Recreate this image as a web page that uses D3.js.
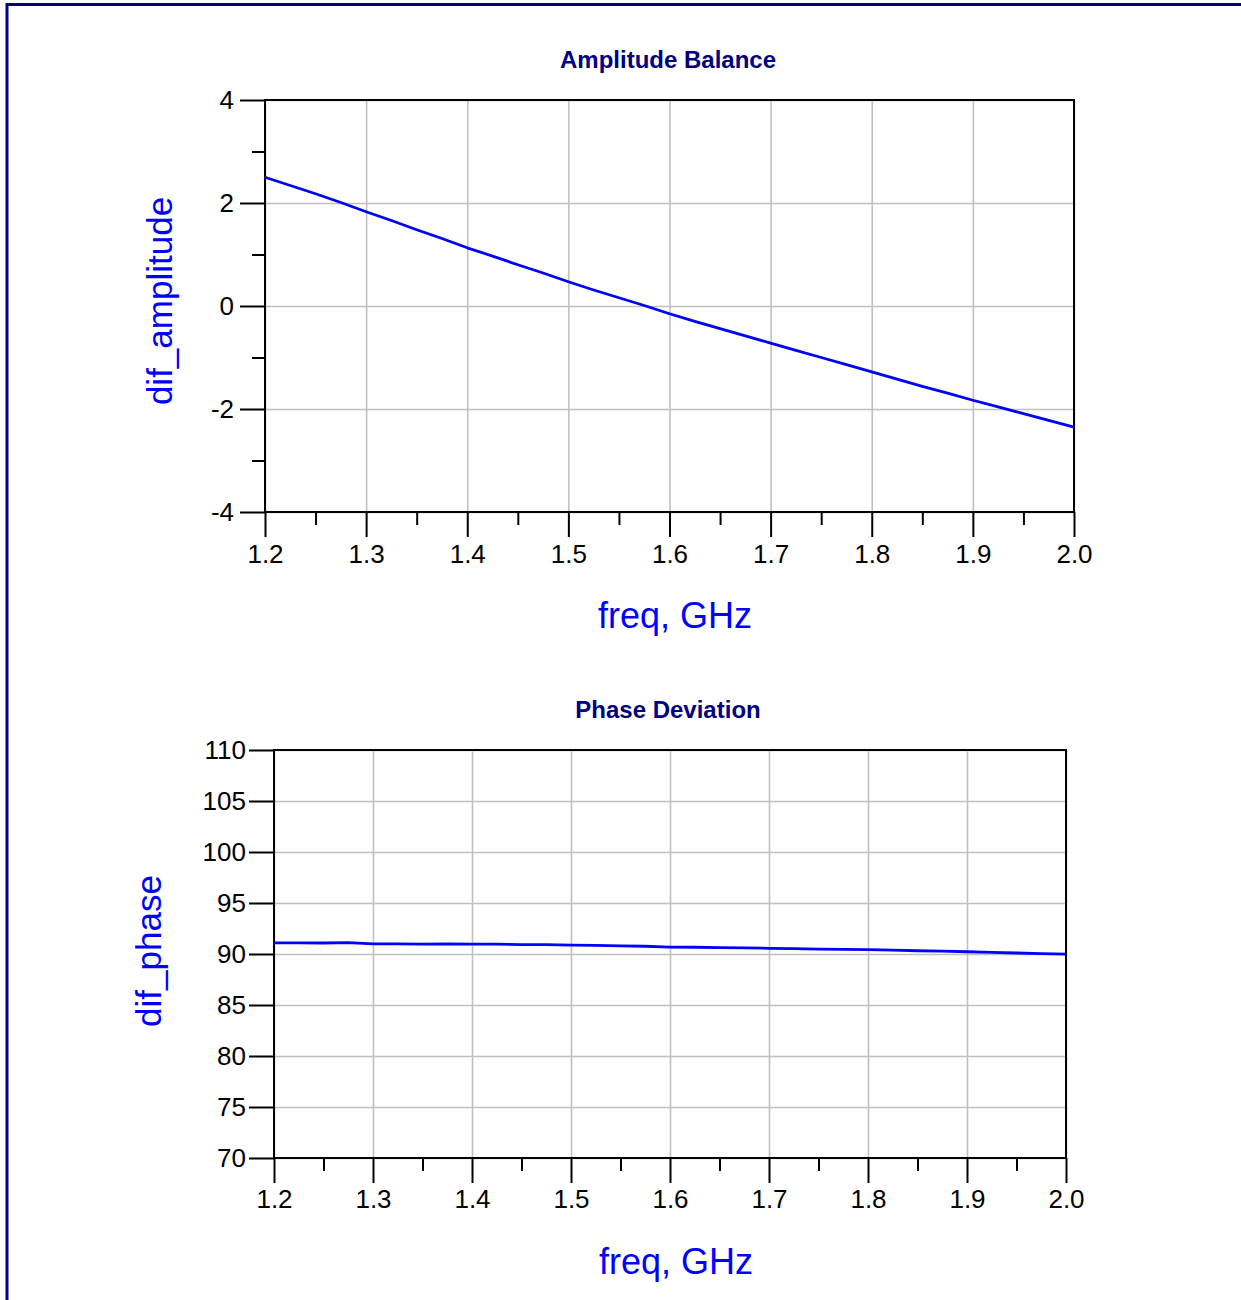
<!DOCTYPE html>
<html>
<head>
<meta charset="utf-8">
<script src="https://cdn.jsdelivr.net/npm/d3@7"></script>
<style>
  body { margin: 0; background: #fff; }
  svg { display: block; font-family: Arial, "Liberation Sans", sans-serif; }
</style>
</head>
<body>
<script>
const width = 1241;
const height = 1300;

// frequency samples, GHz
const freq = [1.2, 1.225, 1.25, 1.275, 1.3, 1.325, 1.35, 1.375, 1.4, 1.425, 1.45, 1.475,
  1.5, 1.525, 1.55, 1.575, 1.6, 1.625, 1.65, 1.675, 1.7, 1.725, 1.75, 1.775,
  1.8, 1.825, 1.85, 1.875, 1.9, 1.925, 1.95, 1.975, 2.0];

// amplitude balance, dB
const difAmplitude = [2.50, 2.34, 2.18, 2.01, 1.83, 1.66, 1.48, 1.31, 1.13, 0.97, 0.80, 0.64,
  0.47, 0.31, 0.16, 0.01, -0.15, -0.30, -0.44, -0.58, -0.72, -0.86, -1.00, -1.14,
  -1.28, -1.42, -1.56, -1.69, -1.83, -1.96, -2.09, -2.22, -2.35];

// phase deviation, deg
const difPhase = [91.10, 91.10, 91.08, 91.12, 91.00, 91.00, 90.97, 90.98, 90.97, 90.96, 90.92, 90.92,
  90.87, 90.85, 90.80, 90.76, 90.68, 90.66, 90.62, 90.60, 90.56, 90.52, 90.48, 90.46,
  90.42, 90.38, 90.32, 90.28, 90.22, 90.16, 90.10, 90.04, 89.98];

const xTicks = [1.2, 1.3, 1.4, 1.5, 1.6, 1.7, 1.8, 1.9, 2.0];
const xMinor = [1.25, 1.35, 1.45, 1.55, 1.65, 1.75, 1.85, 1.95];
const ampTicks = [-4, -2, 0, 2, 4];
const ampMinor = [-3, -1, 1, 3];
const phaseTicks = [70, 75, 80, 85, 90, 95, 100, 105, 110];

const font = 'Arial, "Liberation Sans", sans-serif';

const svg = d3.select('body').append('svg')
  .attr('width', width)
  .attr('height', height);

// page frame
svg.append('rect')
  .attr('x', 7).attr('y', 4.5)
  .attr('width', width + 10).attr('height', height + 10)
  .attr('fill', 'none')
  .attr('stroke', '#000080')
  .attr('stroke-width', 3);

function panel(p) {
  const x = d3.scaleLinear().domain([1.2, 2.0]).range([p.left, p.right]);
  const y = d3.scaleLinear().domain(p.yDomain).range([p.bottom, p.top]);
  const g = svg.append('g');

  // grid
  g.append('g')
    .attr('transform', `translate(0,${p.bottom})`)
    .call(d3.axisBottom(x).tickValues(xTicks).tickSize(-(p.bottom - p.top)).tickFormat(''))
    .call(s => s.select('.domain').remove())
    .call(s => s.selectAll('line').attr('stroke', '#c0c0c0').attr('stroke-width', 1.6));
  g.append('g')
    .attr('transform', `translate(${p.left},0)`)
    .call(d3.axisLeft(y).tickValues(p.yTicks).tickSize(-(p.right - p.left)).tickFormat(''))
    .call(s => s.select('.domain').remove())
    .call(s => s.selectAll('line').attr('stroke', '#c0c0c0').attr('stroke-width', 1.6));

  // frame
  g.append('rect')
    .attr('x', p.left).attr('y', p.top)
    .attr('width', p.right - p.left).attr('height', p.bottom - p.top)
    .attr('fill', 'none').attr('stroke', '#000').attr('stroke-width', 2);

  // x axis
  g.append('g')
    .attr('transform', `translate(0,${p.bottom})`)
    .call(d3.axisBottom(x).tickValues(xTicks).tickSize(25).tickPadding(p.xPad)
      .tickFormat(d3.format('.1f')).tickSizeOuter(0))
    .attr('font-size', 26).attr('font-family', font)
    .call(s => s.select('.domain').remove())
    .call(s => s.selectAll('line').attr('stroke', '#000').attr('stroke-width', 2))
    .call(s => s.selectAll('text').attr('fill', '#000'));
  g.append('g')
    .attr('transform', `translate(0,${p.bottom})`)
    .call(d3.axisBottom(x).tickValues(xMinor).tickSize(13).tickFormat(''))
    .call(s => s.select('.domain').remove())
    .call(s => s.selectAll('line').attr('stroke', '#000').attr('stroke-width', 2));

  // y axis
  g.append('g')
    .attr('transform', `translate(${p.left},0)`)
    .call(d3.axisLeft(y).tickValues(p.yTicks).tickSize(25).tickPadding(p.yPad)
      .tickFormat(d => String(d)).tickSizeOuter(0))
    .attr('font-size', 26).attr('font-family', font)
    .call(s => s.select('.domain').remove())
    .call(s => s.selectAll('line').attr('stroke', '#000').attr('stroke-width', 2))
    .call(s => s.selectAll('text').attr('fill', '#000'));
  if (p.yMinor) {
    g.append('g')
      .attr('transform', `translate(${p.left},0)`)
      .call(d3.axisLeft(y).tickValues(p.yMinor).tickSize(13).tickFormat(''))
      .call(s => s.select('.domain').remove())
      .call(s => s.selectAll('line').attr('stroke', '#000').attr('stroke-width', 2));
  }

  // trace
  g.append('path')
    .datum(d3.zip(freq, p.values))
    .attr('fill', 'none')
    .attr('stroke', '#0000ff')
    .attr('stroke-width', 2.8)
    .attr('stroke-linejoin', 'round')
    .attr('d', d3.line().x(d => x(d[0])).y(d => y(d[1])));

  // titles
  g.append('text')
    .attr('x', 668).attr('y', p.top - 32)
    .attr('text-anchor', 'middle')
    .attr('font-size', 24).attr('font-weight', 'bold').attr('fill', '#000080')
    .text(p.title);
  g.append('text')
    .attr('x', p.xTitleX).attr('y', p.bottom + 116)
    .attr('text-anchor', 'middle')
    .attr('font-size', 36).attr('fill', '#0000ff')
    .text('freq, GHz');
  g.append('text')
    .attr('transform', `translate(${p.yTitleX},${p.yTitleY}) rotate(-90)`)
    .attr('text-anchor', 'middle')
    .attr('font-size', 35).attr('fill', '#0000ff')
    .text(p.yLabel);
}

panel({
  left: 265, right: 1074, top: 100, bottom: 512,
  yDomain: [-4, 4], yTicks: ampTicks, yMinor: ampMinor, xPad: 8, yPad: 6,
  values: difAmplitude,
  title: 'Amplitude Balance', yLabel: 'dif_amplitude',
  xTitleX: 675, yTitleX: 172, yTitleY: 301
});

panel({
  left: 274, right: 1066, top: 750, bottom: 1158,
  yDomain: [70, 110], yTicks: phaseTicks, yMinor: null, xPad: 7, yPad: 3,
  values: difPhase,
  title: 'Phase Deviation', yLabel: 'dif_phase',
  xTitleX: 676, yTitleX: 161, yTitleY: 951
});
</script>
</body>
</html>
